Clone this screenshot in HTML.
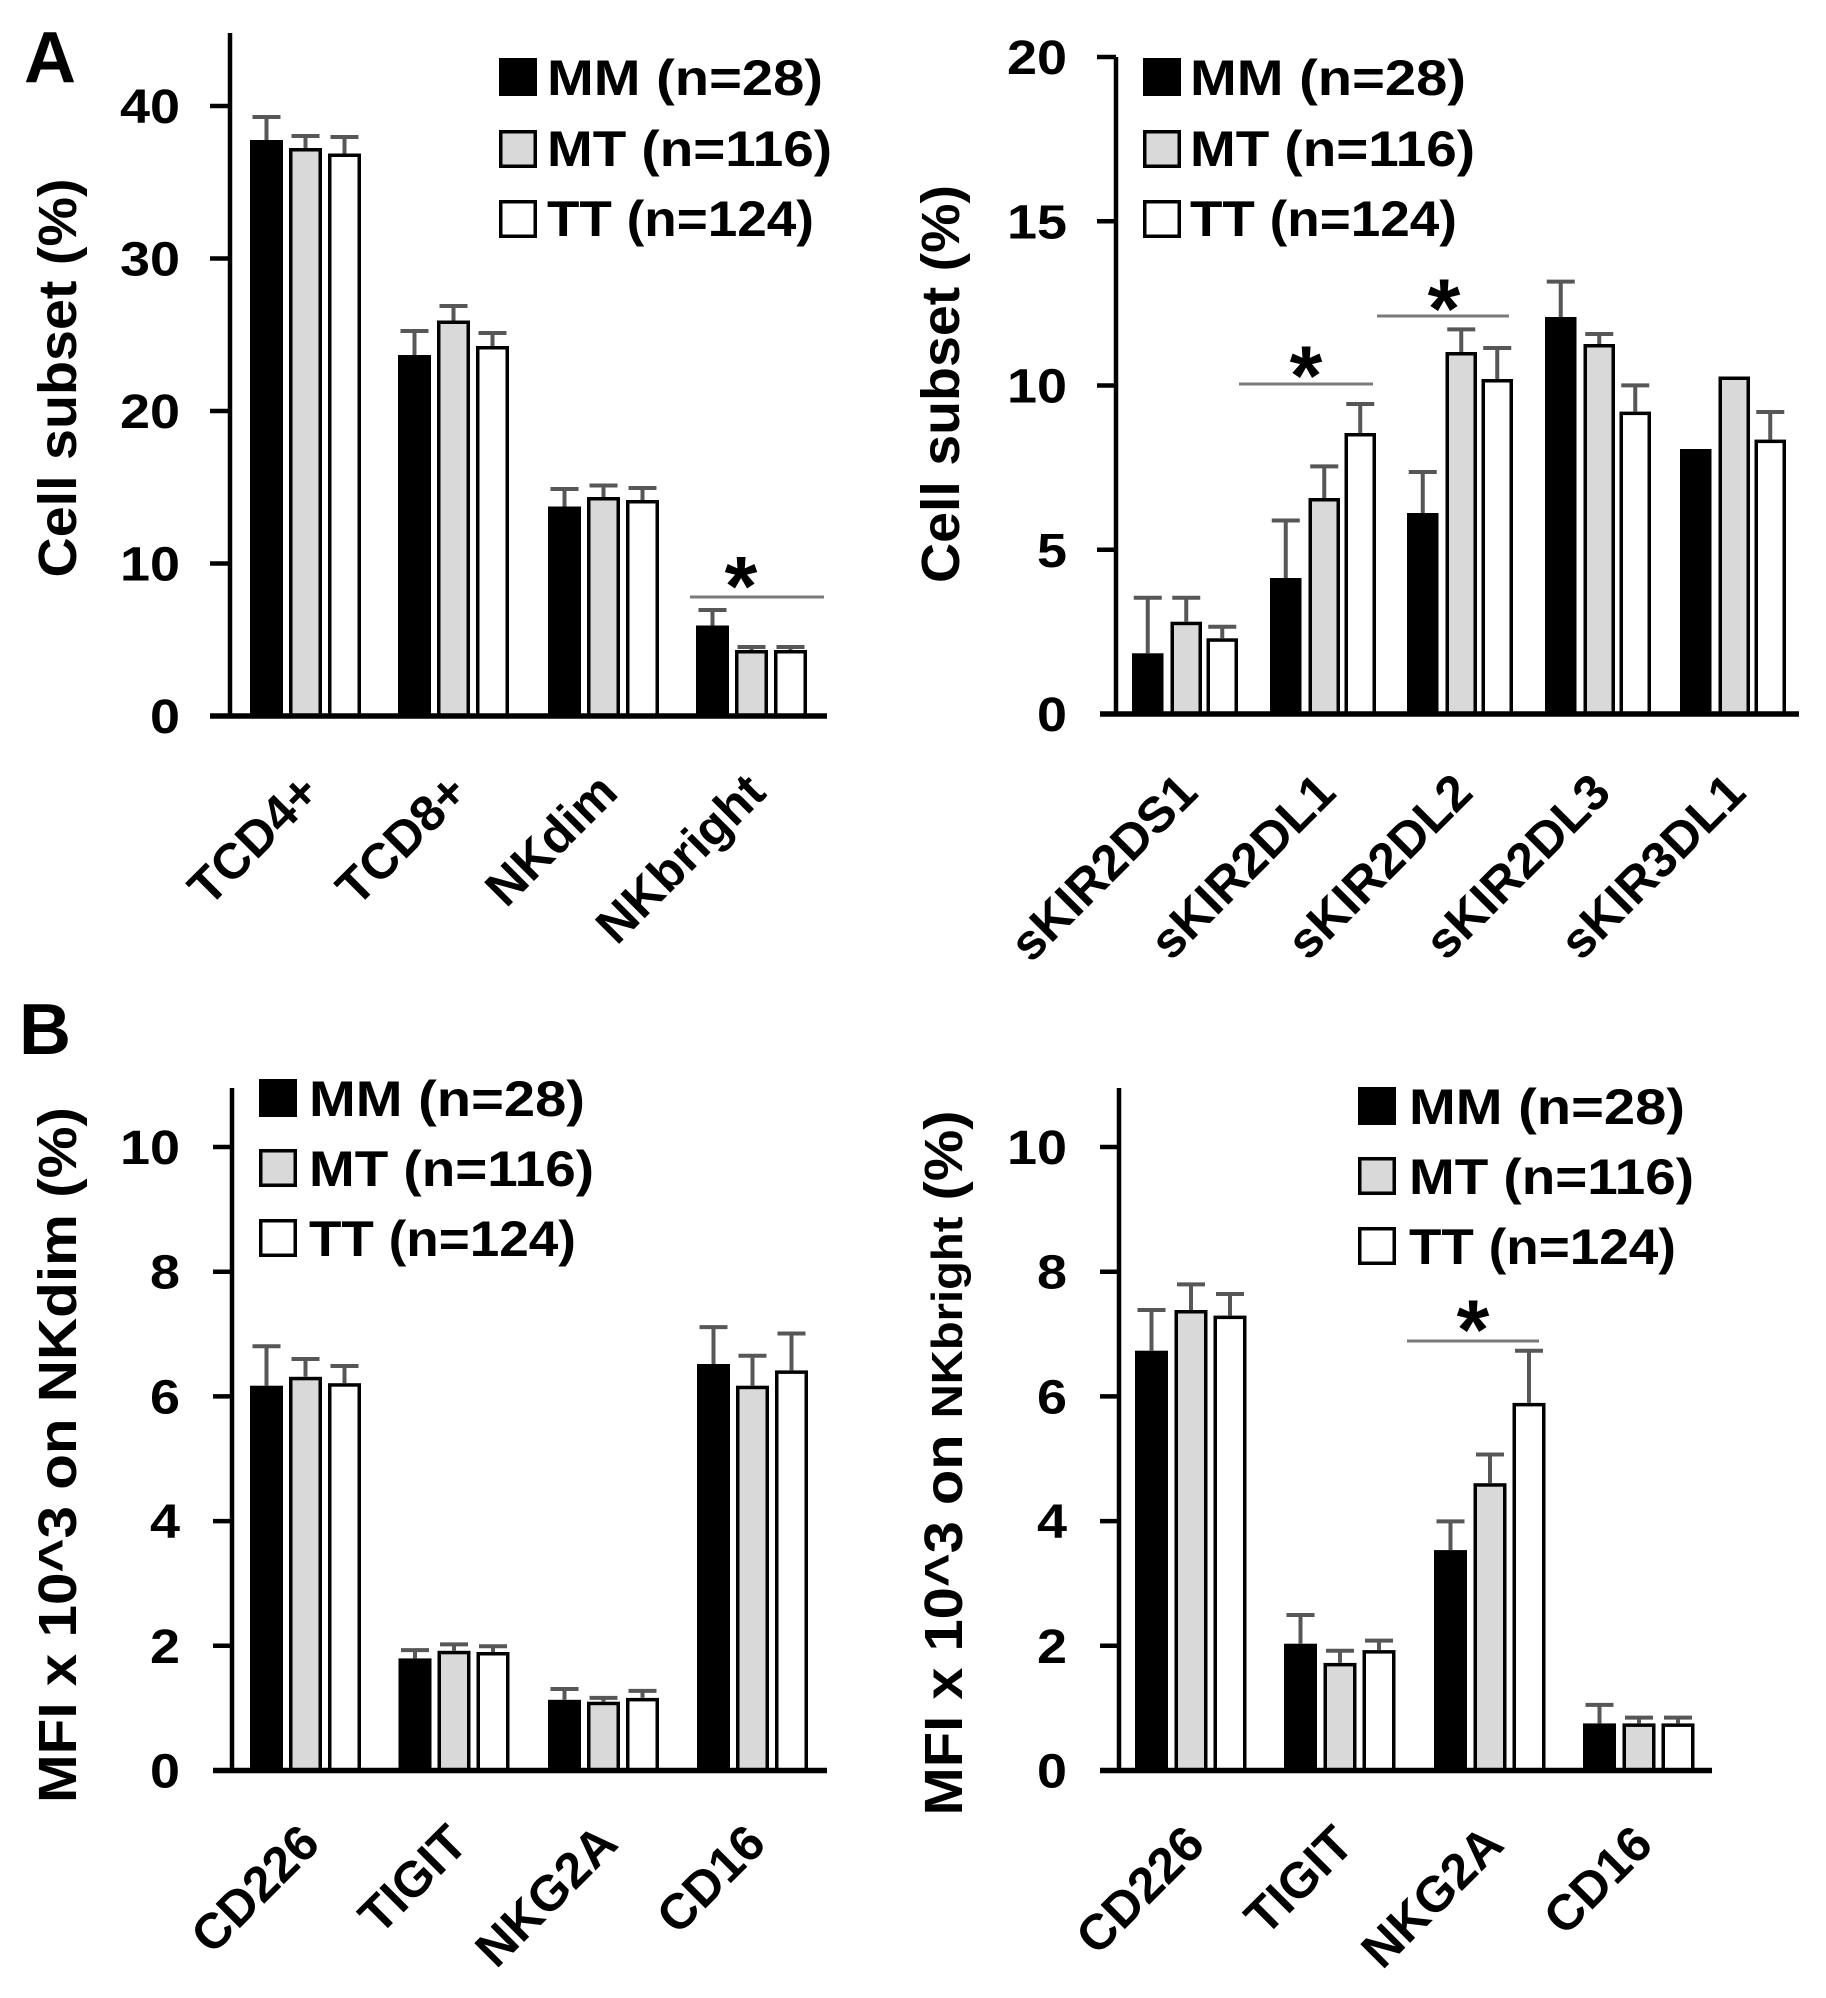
<!DOCTYPE html>
<html>
<head>
<meta charset="utf-8">
<style>
  html, body { margin: 0; padding: 0; background: #ffffff; }
  svg { display: block; }
  text { font-family: "Liberation Sans", Arial, sans-serif; font-weight: bold; fill: #000; }
</style>
</head>
<body>
<svg width="1826" height="1998" viewBox="0 0 1826 1998" xmlns="http://www.w3.org/2000/svg">
<rect x="0" y="0" width="1826" height="1998" fill="#fff"/>

<!-- Panel letters -->
<text x="24" y="82" font-size="72">A</text>
<text x="19" y="1054" font-size="72">B</text>

<!-- ===================== PANEL A LEFT ===================== -->
<g>
  <!-- y label -->
  <text transform="translate(76,378) rotate(-90)" text-anchor="middle" font-size="54" textLength="399" lengthAdjust="spacingAndGlyphs">Cell subset (%)</text>
  <!-- tick labels -->
  <g font-size="48" text-anchor="end">
    <text x="180" y="733" textLength="30" lengthAdjust="spacingAndGlyphs">0</text>
    <text x="180" y="580.5" textLength="60" lengthAdjust="spacingAndGlyphs">10</text>
    <text x="180" y="428" textLength="60" lengthAdjust="spacingAndGlyphs">20</text>
    <text x="180" y="275.5" textLength="60" lengthAdjust="spacingAndGlyphs">30</text>
    <text x="180" y="123" textLength="60" lengthAdjust="spacingAndGlyphs">40</text>
  </g>
  <!-- ticks -->
  <g stroke="#000" stroke-width="4.5">
    <line x1="210" y1="563.5" x2="230" y2="563.5"/>
    <line x1="210" y1="411" x2="230" y2="411"/>
    <line x1="210" y1="258.5" x2="230" y2="258.5"/>
    <line x1="210" y1="106" x2="230" y2="106"/>
  </g>
  <!-- bars -->
  <g stroke="#000" stroke-width="3.5">
    <rect x="251.75" y="141.75" width="29.5" height="574.25" fill="#000"/>
    <rect x="290.75" y="149.75" width="29.5" height="566.25" fill="#d9d9d9"/>
    <rect x="329.75" y="155.25" width="29.5" height="560.75" fill="#fff"/>

    <rect x="399.75" y="356.75" width="29.5" height="359.25" fill="#000"/>
    <rect x="438.75" y="322.25" width="29.5" height="393.75" fill="#d9d9d9"/>
    <rect x="477.75" y="347.75" width="29.5" height="368.25" fill="#fff"/>

    <rect x="549.75" y="508.25" width="29.5" height="207.75" fill="#000"/>
    <rect x="588.75" y="498.75" width="29.5" height="217.25" fill="#d9d9d9"/>
    <rect x="627.75" y="501.75" width="29.5" height="214.25" fill="#fff"/>

    <rect x="697.75" y="627.25" width="29.5" height="88.75" fill="#000"/>
    <rect x="736.75" y="651.75" width="29.5" height="64.25" fill="#d9d9d9"/>
    <rect x="775.75" y="651.75" width="29.5" height="64.25" fill="#fff"/>
  </g>
  <!-- error bars -->
  <g stroke="#575757" stroke-width="4" fill="none">
    <path d="M266.5 140 V117 M252.5 117 H280.5"/>
    <path d="M305.5 148 V136 M291.5 136 H319.5"/>
    <path d="M344.5 153.5 V137 M330.5 137 H358.5"/>
    <path d="M414.5 355 V331 M400.5 331 H428.5"/>
    <path d="M453.5 320.5 V306 M439.5 306 H467.5"/>
    <path d="M492.5 346 V333 M478.5 333 H506.5"/>
    <path d="M564.5 506.5 V489 M550.5 489 H578.5"/>
    <path d="M603.5 497 V485.5 M589.5 485.5 H617.5"/>
    <path d="M642.5 500 V488 M628.5 488 H656.5"/>
    <path d="M712.5 625.5 V610 M698.5 610 H726.5"/>
    <path d="M751.5 650 V647 M737.5 647 H765.5"/>
    <path d="M790.5 650 V647 M776.5 647 H804.5"/>
  </g>
  <!-- axes -->
  <line x1="230" y1="33" x2="230" y2="716" stroke="#000" stroke-width="4.5"/>
  <line x1="210" y1="716" x2="827" y2="716" stroke="#000" stroke-width="5.5"/>
  <!-- significance -->
  <line x1="690" y1="597" x2="824" y2="597" stroke="#7a7a7a" stroke-width="3"/>
  <text x="741" y="615" font-size="84" text-anchor="middle">*</text>
  <!-- legend -->
  <g stroke="#000" stroke-width="3.5">
    <rect x="500.75" y="59.75" width="34.5" height="34.5" fill="#000"/>
    <rect x="500.75" y="131.75" width="34.5" height="34.5" fill="#d9d9d9"/>
    <rect x="500.75" y="201.75" width="34.5" height="34.5" fill="#fff"/>
  </g>
  <g font-size="50">
    <text x="547" y="95" textLength="276" lengthAdjust="spacingAndGlyphs">MM (n=28)</text>
    <text x="547" y="166" textLength="285" lengthAdjust="spacingAndGlyphs">MT (n=116)</text>
    <text x="547" y="236" textLength="267" lengthAdjust="spacingAndGlyphs">TT (n=124)</text>
  </g>
  <!-- x labels -->
  <g font-size="50" text-anchor="end">
    <text transform="translate(322,795) rotate(-45)">TCD4+</text>
    <text transform="translate(470,795) rotate(-45)">TCD8+</text>
    <text transform="translate(620,795) rotate(-45)">NKdim</text>
    <text transform="translate(768,795) rotate(-45)">NKbright</text>
  </g>
</g>

<!-- ===================== PANEL A RIGHT ===================== -->
<g>
  <text transform="translate(959,384) rotate(-90)" text-anchor="middle" font-size="54" textLength="398" lengthAdjust="spacingAndGlyphs">Cell subset (%)</text>
  <g font-size="48" text-anchor="end">
    <text x="1067" y="731" textLength="30" lengthAdjust="spacingAndGlyphs">0</text>
    <text x="1067" y="566.75" textLength="30" lengthAdjust="spacingAndGlyphs">5</text>
    <text x="1067" y="402.5" textLength="60" lengthAdjust="spacingAndGlyphs">10</text>
    <text x="1067" y="238.25" textLength="60" lengthAdjust="spacingAndGlyphs">15</text>
    <text x="1067" y="74" textLength="60" lengthAdjust="spacingAndGlyphs">20</text>
  </g>
  <g stroke="#000" stroke-width="4.5">
    <line x1="1097" y1="549.75" x2="1116" y2="549.75"/>
    <line x1="1097" y1="385.5" x2="1116" y2="385.5"/>
    <line x1="1097" y1="221.25" x2="1116" y2="221.25"/>
    <line x1="1097" y1="57" x2="1116" y2="57"/>
  </g>
  <g stroke="#000" stroke-width="3.5">
    <!-- sKIR2DS1 -->
    <rect x="1133.75" y="655.05" width="28" height="58.95" fill="#000"/>
    <rect x="1172.25" y="623.45" width="28" height="90.55" fill="#d9d9d9"/>
    <rect x="1208.25" y="640.05" width="28" height="73.95" fill="#fff"/>
    <!-- sKIR2DL1 -->
    <rect x="1271.75" y="579.75" width="28" height="134.25" fill="#000"/>
    <rect x="1310.25" y="499.75" width="28" height="214.25" fill="#d9d9d9"/>
    <rect x="1346.25" y="434.75" width="28" height="279.25" fill="#fff"/>
    <!-- sKIR2DL2 -->
    <rect x="1408.75" y="514.75" width="28" height="199.25" fill="#000"/>
    <rect x="1447.25" y="353.75" width="28" height="360.25" fill="#d9d9d9"/>
    <rect x="1483.25" y="380.75" width="28" height="333.25" fill="#fff"/>
    <!-- sKIR2DL3 -->
    <rect x="1546.75" y="318.75" width="28" height="395.25" fill="#000"/>
    <rect x="1585.25" y="345.75" width="28" height="368.25" fill="#d9d9d9"/>
    <rect x="1621.25" y="413.35" width="28" height="300.65" fill="#fff"/>
    <!-- sKIR3DL1 -->
    <rect x="1681.75" y="450.75" width="28" height="263.25" fill="#000"/>
    <rect x="1720.25" y="378.25" width="28" height="335.75" fill="#d9d9d9"/>
    <rect x="1756.25" y="441.35" width="28" height="272.65" fill="#fff"/>
  </g>
  <g stroke="#575757" stroke-width="4" fill="none">
    <path d="M1147.75 653.3 V597.7 M1133.75 597.7 H1161.75"/>
    <path d="M1186.25 621.7 V597.7 M1172.25 597.7 H1200.25"/>
    <path d="M1222.25 638.3 V626.7 M1208.25 626.7 H1236.25"/>
    <path d="M1285.75 578 V520.5 M1271.75 520.5 H1299.75"/>
    <path d="M1324.25 498 V466.4 M1310.25 466.4 H1338.25"/>
    <path d="M1360.25 433 V404 M1346.25 404 H1374.25"/>
    <path d="M1422.75 513 V472 M1408.75 472 H1436.75"/>
    <path d="M1461.25 352 V329.4 M1447.25 329.4 H1475.25"/>
    <path d="M1497.25 379 V348 M1483.25 348 H1511.25"/>
    <path d="M1560.75 317 V281.6 M1546.75 281.6 H1574.75"/>
    <path d="M1599.25 344 V334 M1585.25 334 H1613.25"/>
    <path d="M1635.25 411.6 V385.4 M1621.25 385.4 H1649.25"/>
    <path d="M1770.25 439.6 V412 M1756.25 412 H1784.25"/>
  </g>
  <line x1="1116" y1="57" x2="1116" y2="714" stroke="#000" stroke-width="4.5"/>
  <line x1="1100" y1="714" x2="1799" y2="714" stroke="#000" stroke-width="5.5"/>
  <line x1="1239" y1="384" x2="1373" y2="384" stroke="#7a7a7a" stroke-width="3"/>
  <text x="1306" y="404.5" font-size="84" text-anchor="middle">*</text>
  <line x1="1377" y1="316" x2="1509" y2="316" stroke="#7a7a7a" stroke-width="3"/>
  <text x="1444" y="337.5" font-size="84" text-anchor="middle">*</text>
  <g stroke="#000" stroke-width="3.5">
    <rect x="1144.75" y="59.75" width="34.5" height="34.5" fill="#000"/>
    <rect x="1144.75" y="131.75" width="34.5" height="34.5" fill="#d9d9d9"/>
    <rect x="1144.75" y="201.75" width="34.5" height="34.5" fill="#fff"/>
  </g>
  <g font-size="50">
    <text x="1190" y="95" textLength="276" lengthAdjust="spacingAndGlyphs">MM (n=28)</text>
    <text x="1190" y="166" textLength="285" lengthAdjust="spacingAndGlyphs">MT (n=116)</text>
    <text x="1190" y="236" textLength="267" lengthAdjust="spacingAndGlyphs">TT (n=124)</text>
  </g>
  <g font-size="50" text-anchor="end">
    <text transform="translate(1200,795) rotate(-45)">sKIR2DS1</text>
    <text transform="translate(1338,795) rotate(-45)">sKIR2DL1</text>
    <text transform="translate(1475,795) rotate(-45)">sKIR2DL2</text>
    <text transform="translate(1613,795) rotate(-45)">sKIR2DL3</text>
    <text transform="translate(1748,795) rotate(-45)">sKIR3DL1</text>
  </g>
</g>

<!-- ===================== PANEL B LEFT ===================== -->
<g>
  <text transform="translate(76,1455) rotate(-90)" text-anchor="middle" font-size="54" textLength="696" lengthAdjust="spacingAndGlyphs">MFI x 10^3 on NKdim (%)</text>
  <g font-size="48" text-anchor="end">
    <text x="180" y="1787.5" textLength="30" lengthAdjust="spacingAndGlyphs">0</text>
    <text x="180" y="1662.8" textLength="30" lengthAdjust="spacingAndGlyphs">2</text>
    <text x="180" y="1538.1" textLength="30" lengthAdjust="spacingAndGlyphs">4</text>
    <text x="180" y="1413.4" textLength="30" lengthAdjust="spacingAndGlyphs">6</text>
    <text x="180" y="1288.7" textLength="30" lengthAdjust="spacingAndGlyphs">8</text>
    <text x="180" y="1164" textLength="60" lengthAdjust="spacingAndGlyphs">10</text>
  </g>
  <g stroke="#000" stroke-width="4.5">
    <line x1="213" y1="1645.8" x2="232" y2="1645.8"/>
    <line x1="213" y1="1521.1" x2="232" y2="1521.1"/>
    <line x1="213" y1="1396.4" x2="232" y2="1396.4"/>
    <line x1="213" y1="1271.7" x2="232" y2="1271.7"/>
    <line x1="213" y1="1147" x2="232" y2="1147"/>
  </g>
  <g stroke="#000" stroke-width="3.5">
    <rect x="251.75" y="1387.45" width="29.5" height="383.05" fill="#000"/>
    <rect x="290.75" y="1378.55" width="29.5" height="391.95" fill="#d9d9d9"/>
    <rect x="329.75" y="1384.95" width="29.5" height="385.55" fill="#fff"/>

    <rect x="400.25" y="1660.15" width="29.5" height="110.35" fill="#000"/>
    <rect x="439.25" y="1652.55" width="29.5" height="117.95" fill="#d9d9d9"/>
    <rect x="478.25" y="1653.75" width="29.5" height="116.75" fill="#fff"/>

    <rect x="549.75" y="1701.55" width="29.5" height="68.95" fill="#000"/>
    <rect x="588.75" y="1703.45" width="29.5" height="67.05" fill="#d9d9d9"/>
    <rect x="627.75" y="1699.65" width="29.5" height="70.85" fill="#fff"/>

    <rect x="698.75" y="1365.75" width="29.5" height="404.75" fill="#000"/>
    <rect x="737.75" y="1387.45" width="29.5" height="383.05" fill="#d9d9d9"/>
    <rect x="776.75" y="1372.15" width="29.5" height="398.35" fill="#fff"/>
  </g>
  <g stroke="#575757" stroke-width="4" fill="none">
    <path d="M266.5 1385.7 V1346.2 M252.5 1346.2 H280.5"/>
    <path d="M305.5 1376.8 V1359 M291.5 1359 H319.5"/>
    <path d="M344.5 1383.2 V1366 M330.5 1366 H358.5"/>
    <path d="M415 1658.4 V1650.1 M401 1650.1 H429"/>
    <path d="M454 1650.8 V1644.4 M440 1644.4 H468"/>
    <path d="M493 1652 V1646.3 M479 1646.3 H507"/>
    <path d="M564.5 1699.8 V1689 M550.5 1689 H578.5"/>
    <path d="M603.5 1701.7 V1697.9 M589.5 1697.9 H617.5"/>
    <path d="M642.5 1697.9 V1690.9 M628.5 1690.9 H656.5"/>
    <path d="M713.5 1364 V1327.1 M699.5 1327.1 H727.5"/>
    <path d="M752.5 1385.7 V1355.8 M738.5 1355.8 H766.5"/>
    <path d="M791.5 1370.4 V1333.5 M777.5 1333.5 H805.5"/>
  </g>
  <line x1="232" y1="1088" x2="232" y2="1770.5" stroke="#000" stroke-width="4.5"/>
  <line x1="213" y1="1770.5" x2="827" y2="1770.5" stroke="#000" stroke-width="5.5"/>
  <g stroke="#000" stroke-width="3.5">
    <rect x="260.75" y="1080.75" width="34.5" height="34.5" fill="#000"/>
    <rect x="260.75" y="1150.75" width="34.5" height="34.5" fill="#d9d9d9"/>
    <rect x="260.75" y="1220.75" width="34.5" height="34.5" fill="#fff"/>
  </g>
  <g font-size="50">
    <text x="309" y="1116" textLength="276" lengthAdjust="spacingAndGlyphs">MM (n=28)</text>
    <text x="309" y="1186" textLength="285" lengthAdjust="spacingAndGlyphs">MT (n=116)</text>
    <text x="309" y="1256" textLength="267" lengthAdjust="spacingAndGlyphs">TT (n=124)</text>
  </g>
  <g font-size="50" text-anchor="end">
    <text transform="translate(322,1846) rotate(-45)">CD226</text>
    <text transform="translate(470,1846) rotate(-45)">TIGIT</text>
    <text transform="translate(620,1846) rotate(-45)">NKG2A</text>
    <text transform="translate(768,1846) rotate(-45)">CD16</text>
  </g>
</g>

<!-- ===================== PANEL B RIGHT ===================== -->
<g>
  <text transform="translate(962,1463) rotate(-90)" text-anchor="middle" font-size="54" textLength="705" lengthAdjust="spacingAndGlyphs">MFI x 10^3 on <tspan font-size="44">NKbright</tspan> (%)</text>
  <g font-size="48" text-anchor="end">
    <text x="1067" y="1787.5" textLength="30" lengthAdjust="spacingAndGlyphs">0</text>
    <text x="1067" y="1662.8" textLength="30" lengthAdjust="spacingAndGlyphs">2</text>
    <text x="1067" y="1538.1" textLength="30" lengthAdjust="spacingAndGlyphs">4</text>
    <text x="1067" y="1413.4" textLength="30" lengthAdjust="spacingAndGlyphs">6</text>
    <text x="1067" y="1288.7" textLength="30" lengthAdjust="spacingAndGlyphs">8</text>
    <text x="1067" y="1164" textLength="60" lengthAdjust="spacingAndGlyphs">10</text>
  </g>
  <g stroke="#000" stroke-width="4.5">
    <line x1="1100" y1="1645.8" x2="1119" y2="1645.8"/>
    <line x1="1100" y1="1521.1" x2="1119" y2="1521.1"/>
    <line x1="1100" y1="1396.4" x2="1119" y2="1396.4"/>
    <line x1="1100" y1="1271.7" x2="1119" y2="1271.7"/>
    <line x1="1100" y1="1147" x2="1119" y2="1147"/>
  </g>
  <g stroke="#000" stroke-width="3.5">
    <rect x="1136.75" y="1352.45" width="29.5" height="418.05" fill="#000"/>
    <rect x="1176.25" y="1311.75" width="29.5" height="458.75" fill="#d9d9d9"/>
    <rect x="1215.25" y="1317.35" width="29.5" height="453.15" fill="#fff"/>

    <rect x="1285.75" y="1645.45" width="29.5" height="125.05" fill="#000"/>
    <rect x="1325.25" y="1664.65" width="29.5" height="105.85" fill="#d9d9d9"/>
    <rect x="1364.25" y="1651.85" width="29.5" height="118.65" fill="#fff"/>

    <rect x="1435.75" y="1551.85" width="29.5" height="218.65" fill="#000"/>
    <rect x="1475.25" y="1484.95" width="29.5" height="285.55" fill="#d9d9d9"/>
    <rect x="1514.25" y="1404.65" width="29.5" height="365.85" fill="#fff"/>

    <rect x="1584.75" y="1725.15" width="29.5" height="45.35" fill="#000"/>
    <rect x="1624.25" y="1725.15" width="29.5" height="45.35" fill="#d9d9d9"/>
    <rect x="1663.25" y="1725.15" width="29.5" height="45.35" fill="#fff"/>
  </g>
  <g stroke="#575757" stroke-width="4" fill="none">
    <path d="M1151.5 1350.7 V1310 M1137.5 1310 H1165.5"/>
    <path d="M1191 1310 V1284.4 M1177 1284.4 H1205"/>
    <path d="M1230 1315.6 V1294 M1216 1294 H1244"/>
    <path d="M1300.5 1643.7 V1615 M1286.5 1615 H1314.5"/>
    <path d="M1340 1662.9 V1650.8 M1326 1650.8 H1354"/>
    <path d="M1379 1650.1 V1640.6 M1365 1640.6 H1393"/>
    <path d="M1450.5 1550.1 V1521.4 M1436.5 1521.4 H1464.5"/>
    <path d="M1490 1483.2 V1454.5 M1476 1454.5 H1504"/>
    <path d="M1529 1402.9 V1350.7 M1515 1350.7 H1543"/>
    <path d="M1599.5 1723.4 V1704.9 M1585.5 1704.9 H1613.5"/>
    <path d="M1639 1723.4 V1717.6 M1625 1717.6 H1653"/>
    <path d="M1678 1723.4 V1717.6 M1664 1717.6 H1692"/>
  </g>
  <line x1="1119" y1="1088" x2="1119" y2="1770.5" stroke="#000" stroke-width="4.5"/>
  <line x1="1100" y1="1770.5" x2="1712" y2="1770.5" stroke="#000" stroke-width="5.5"/>
  <line x1="1407" y1="1341" x2="1539" y2="1341" stroke="#7a7a7a" stroke-width="3"/>
  <text x="1473" y="1358.5" font-size="84" text-anchor="middle">*</text>
  <g stroke="#000" stroke-width="3.5">
    <rect x="1359.75" y="1088.75" width="34.5" height="34.5" fill="#000"/>
    <rect x="1359.75" y="1158.75" width="34.5" height="34.5" fill="#d9d9d9"/>
    <rect x="1359.75" y="1228.75" width="34.5" height="34.5" fill="#fff"/>
  </g>
  <g font-size="50">
    <text x="1409" y="1124" textLength="276" lengthAdjust="spacingAndGlyphs">MM (n=28)</text>
    <text x="1409" y="1194" textLength="285" lengthAdjust="spacingAndGlyphs">MT (n=116)</text>
    <text x="1409" y="1264" textLength="267" lengthAdjust="spacingAndGlyphs">TT (n=124)</text>
  </g>
  <g font-size="50" text-anchor="end">
    <text transform="translate(1207,1847) rotate(-45)">CD226</text>
    <text transform="translate(1356,1847) rotate(-45)">TIGIT</text>
    <text transform="translate(1506,1847) rotate(-45)">NKG2A</text>
    <text transform="translate(1655,1847) rotate(-45)">CD16</text>
  </g>
</g>
</svg>
</body>
</html>
